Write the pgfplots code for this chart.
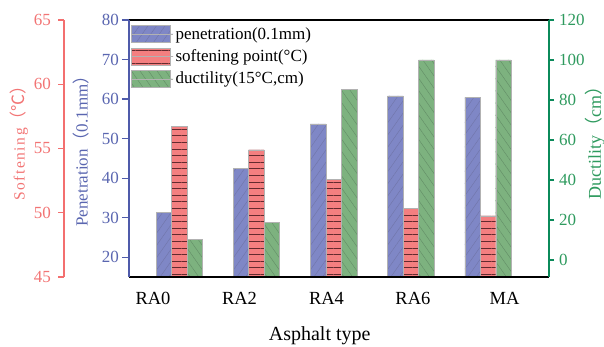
\documentclass[border=0pt]{standalone}
\usepackage{fontspec}
\setmainfont{Liberation Serif}
\newfontfamily\cjk{Noto Sans CJK SC}
\newfontfamily\spaced[LetterSpace=10]{Liberation Serif}
\usepackage{pgfplots}
\usepackage{pgfplotstable}
\pgfplotsset{compat=1.18}
\usetikzlibrary{patterns.meta}

\definecolor{bfill}{HTML}{7F87C6}
\definecolor{bhatch}{HTML}{7075A8}
\definecolor{baxis}{HTML}{4F5BAA}
\definecolor{btext}{HTML}{5A66B0}
\definecolor{rfill}{HTML}{F47F80}
\definecolor{rhatch}{HTML}{632A2E}
\definecolor{raxis}{HTML}{F36F6F}
\definecolor{rtext}{HTML}{F27474}
\definecolor{gfill}{HTML}{7DB27F}
\definecolor{ghatch}{HTML}{628C66}
\definecolor{gaxis}{HTML}{0B8A5A}
\definecolor{gtext}{HTML}{2E9A5E}

\pgfplotstableread{
x pen soft duct
0 31.3 56.75 10.3
1 42.5 54.9 18.8
2 53.7 52.6 85.3
3 60.8 50.35 100
4 60.4 49.75 100
}\datatable

\pgfplotsset{
  common/.style={scale only axis, width=420pt, height=257pt,
    xmin=-0.65, xmax=4.79,
    /pgf/number format/assume math mode=true,
    tick align=outside, minor tick num=0,
    tick label style={font=\fontsize{17}{20}\selectfont}},
  barleg/.style={legend image code/.code={\path[##1] (0pt,-8.5pt) rectangle (39pt,8.5pt); \path (0pt,0pt) -- (42pt,0pt);}},
  bluebar/.style={fill=bfill, draw=gray!60, line width=0.4pt,
    postaction={pattern={Lines[angle=55,distance=7pt,line width=0.4pt]}, pattern color=bhatch}},
  redbar/.style={fill=rfill, draw=gray!60, line width=0.4pt,
    postaction={pattern={Lines[angle=0,distance=6.6pt,line width=0.8pt]}, pattern color=rhatch}},
  greenbar/.style={fill=gfill, draw=gray!60, line width=0.4pt,
    postaction={pattern={Lines[angle=-55,distance=7pt,line width=0.4pt]}, pattern color=ghatch}},
}

\begin{document}
\begin{tikzpicture}
\useasboundingbox (-129pt,-70pt) rectangle (475pt,277pt);

% Penetration axis (blue)
\begin{axis}[common, name=main,
  ymin=15, ymax=80, ytick={20,30,...,80},
  axis y line*=left, axis x line*=bottom,
  x axis line style={black, line width=2pt, -},
  y axis line style={baxis, line width=1.4pt, -},
  major tick length=7pt,
  ytick style={baxis, line width=1.2pt},
  yticklabel style={btext, inner sep=3pt},
  xtick={-0.339,0.781,1.908,3.028,4.214},
  xticklabels={RA0,RA2,RA4,RA6,MA},
  xtick style={draw=none},
  xticklabel style={font=\fontsize{18.5}{22}\selectfont, yshift=-5pt},
  xlabel={Asphalt type},
  xlabel style={font=\fontsize{20}{24}\selectfont, at={(axis description cs:0.454,0)}, anchor=center, yshift=-59pt},
  ylabel={Penetration{\cjk（}0.1mm{\cjk）}},
  ylabel style={font=\fontsize{17}{20}\selectfont, text=btext, at={(axis description cs:-0.114,0.506)}, anchor=center},
]
\addplot[ybar, bar width=0.2, bar shift=-0.2, bluebar] table[x=x, y=pen]{\datatable};
\end{axis}

% Ductility axis (green), shifted by 8.5 so bars start at the axis bottom
\begin{axis}[common,
  ymin=0, ymax=128.5,
  ytick={8.5,28.5,48.5,68.5,88.5,108.5,128.5},
  yticklabels={0,20,40,60,80,100,120},
  axis y line*=right, axis x line=none, xtick=\empty,
  y axis line style={gaxis, line width=1.6pt, -},
  major tick length=5pt,
  ytick style={gaxis, line width=1.2pt},
  yticklabel style={gtext, inner sep=5pt},
  ylabel={Ductility{\cjk（}cm{\cjk）}},
  ylabel style={font=\fontsize{18}{22}\selectfont, text=gtext, at={(axis description cs:1.1095,0.537)}, anchor=center},
]
\addplot[ybar, bar width=0.2, bar shift=0.2, greenbar] table[x=x, y expr=\thisrow{duct}+8.5]{\datatable};
\end{axis}

% Softening point bars (red) and legend
\begin{axis}[common,
  ymin=45, ymax=65, hide axis,
  legend cell align=left,
  legend style={at={(rel axis cs:0,1)}, anchor=north west, xshift=2pt, yshift=-5pt,
    draw=none, fill=none, inner sep=0pt, row sep=5pt,
    font=\fontsize{17}{20}\selectfont},
]
\addlegendimage{bluebar, barleg}
\addlegendentry{penetration(0.1mm)}
\addplot[ybar, bar width=0.2, bar shift=0, redbar, barleg] table[x=x, y=soft]{\datatable};
\addlegendentry{softening point(°C)}
\addlegendimage{greenbar, barleg}
\addlegendentry{ductility(15°C,cm)}
\end{axis}

% Softening scale (red), offset to the left
\begin{axis}[scale only axis, width=1pt, height=257pt, at={(-65pt,0)},
  xmin=0, xmax=1, ymin=45, ymax=65, ytick={45,50,...,65},
  /pgf/number format/assume math mode=true,
  axis y line*=left, axis x line=none, xtick=\empty,
  tick align=outside, major tick length=6pt,
  y axis line style={raxis, line width=1.6pt, -},
  ytick style={raxis, line width=1.4pt},
  yticklabel style={font=\fontsize{17}{20}\selectfont, rtext, inner sep=7pt},
  ylabel={{\spaced\fontsize{15.5}{18}\selectfont Softening}{\cjk（℃）}},
  ylabel style={font=\fontsize{17}{20}\selectfont, text=rtext, at={(axis description cs:-45,0.537)}, anchor=center},
]
\end{axis}

\draw[black, line width=1.6pt] (main.north west) -- (main.north east);
\draw[black, line width=2.2pt] (main.south west) -- (main.south east);
\draw[baxis, line width=1.4pt] (main.south west) -- (main.north west);
\draw[gaxis, line width=1.6pt] (main.south east) -- (main.north east);
\end{tikzpicture}
\end{document}
